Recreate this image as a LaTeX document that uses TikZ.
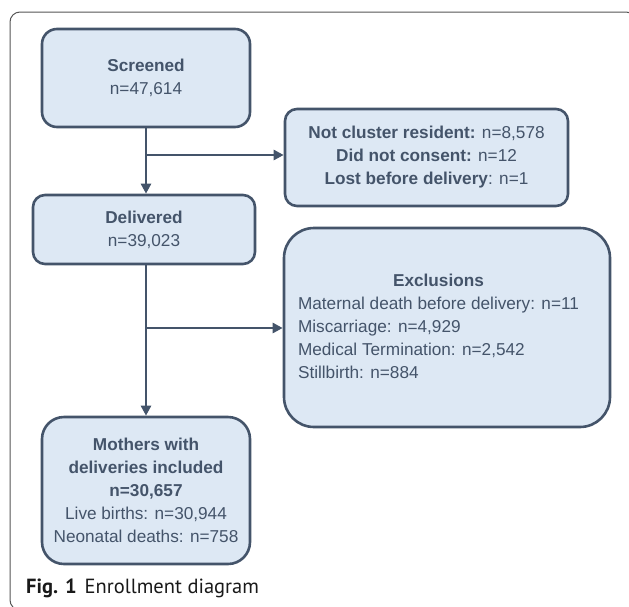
\documentclass[tikz,border=0pt]{standalone}
\usepackage{fontspec}
\setmainfont{Liberation Sans}
\newfontfamily\capfont{PT Sans}
\usetikzlibrary{arrows.meta}
\definecolor{boxfill}{HTML}{DDE8F4}
\definecolor{boxline}{HTML}{44546A}
\definecolor{boxtext}{HTML}{44546A}
\definecolor{framecol}{HTML}{555555}
\begin{document}
\begin{tikzpicture}[x=1pt,y=-1pt,
  boxbase/.style={draw=boxline, fill=boxfill, line width=2.6pt, text=boxtext,
    font=\fontsize{17.2}{23}\selectfont, inner sep=0pt},
  box/.style={boxbase, align=center},
  flow/.style={draw=boxline, line width=2.6pt, -{Triangle[length=10pt,width=10pt]}},
  ]
\useasboundingbox (0,0) rectangle (629,606);
\begin{scope}
  \clip (0,0) rectangle (629,606);
  \draw[line width=1pt, draw=framecol, rounded corners=10pt] (10,12) rectangle (636,610);
\end{scope}

\node[box, rounded corners=15pt, minimum width=208pt, minimum height=98pt] (screened) at (146,78)
  {\textbf{Screened}\\n=47,614};
\node[box, rounded corners=12pt, minimum width=283pt, minimum height=97pt] (notcl) at (426.5,157.5)
  {\textbf{Not cluster resident:} n=8,578\\\textbf{Did not consent:} n=12\\\textbf{Lost before delivery}: n=1};
\node[box, rounded corners=12pt, minimum width=222pt, minimum height=69pt] (delivered) at (144,229.5)
  {\textbf{Delivered}\\n=39,023};
\node[boxbase, rounded corners=30pt, minimum width=326pt, minimum height=199pt] (excl) at (447,327.5)
  {\begin{tabular}{@{}l@{}}\multicolumn{1}{@{}c@{}}{\textbf{Exclusions}}\\
   Maternal death before delivery: n=11\\
   Miscarriage: n=4,929\\
   Medical Termination: n=2,542\\
   Stillbirth: n=884\end{tabular}\hspace*{17pt}};
\node[box, rounded corners=22pt, minimum width=208pt, minimum height=147pt] (mothers) at (146,490.5)
  {\textbf{Mothers with}\\\textbf{deliveries included}\\\textbf{n=30,657}\\Live births: n=30,944\\Neonatal deaths: n=758};

\node[anchor=base west, font=\capfont\fontsize{20.5}{24}\selectfont, text=black!90, inner sep=0pt] (cap) at (26,593)
  {\textbf{Fig. 1}\hspace{8pt}Enrollment diagram};

\coordinate (b1) at (146,155);
\coordinate (b2) at (146,328);
\draw[flow] (screened.south) -- (screened.south |- delivered.north);
\draw[flow] (b1) -- (notcl.west |- b1);
\draw[flow] (mothers.north |- delivered.south) -- (mothers.north);
\draw[flow] (b2) -- (excl.west |- b2);
\end{tikzpicture}
\end{document}
